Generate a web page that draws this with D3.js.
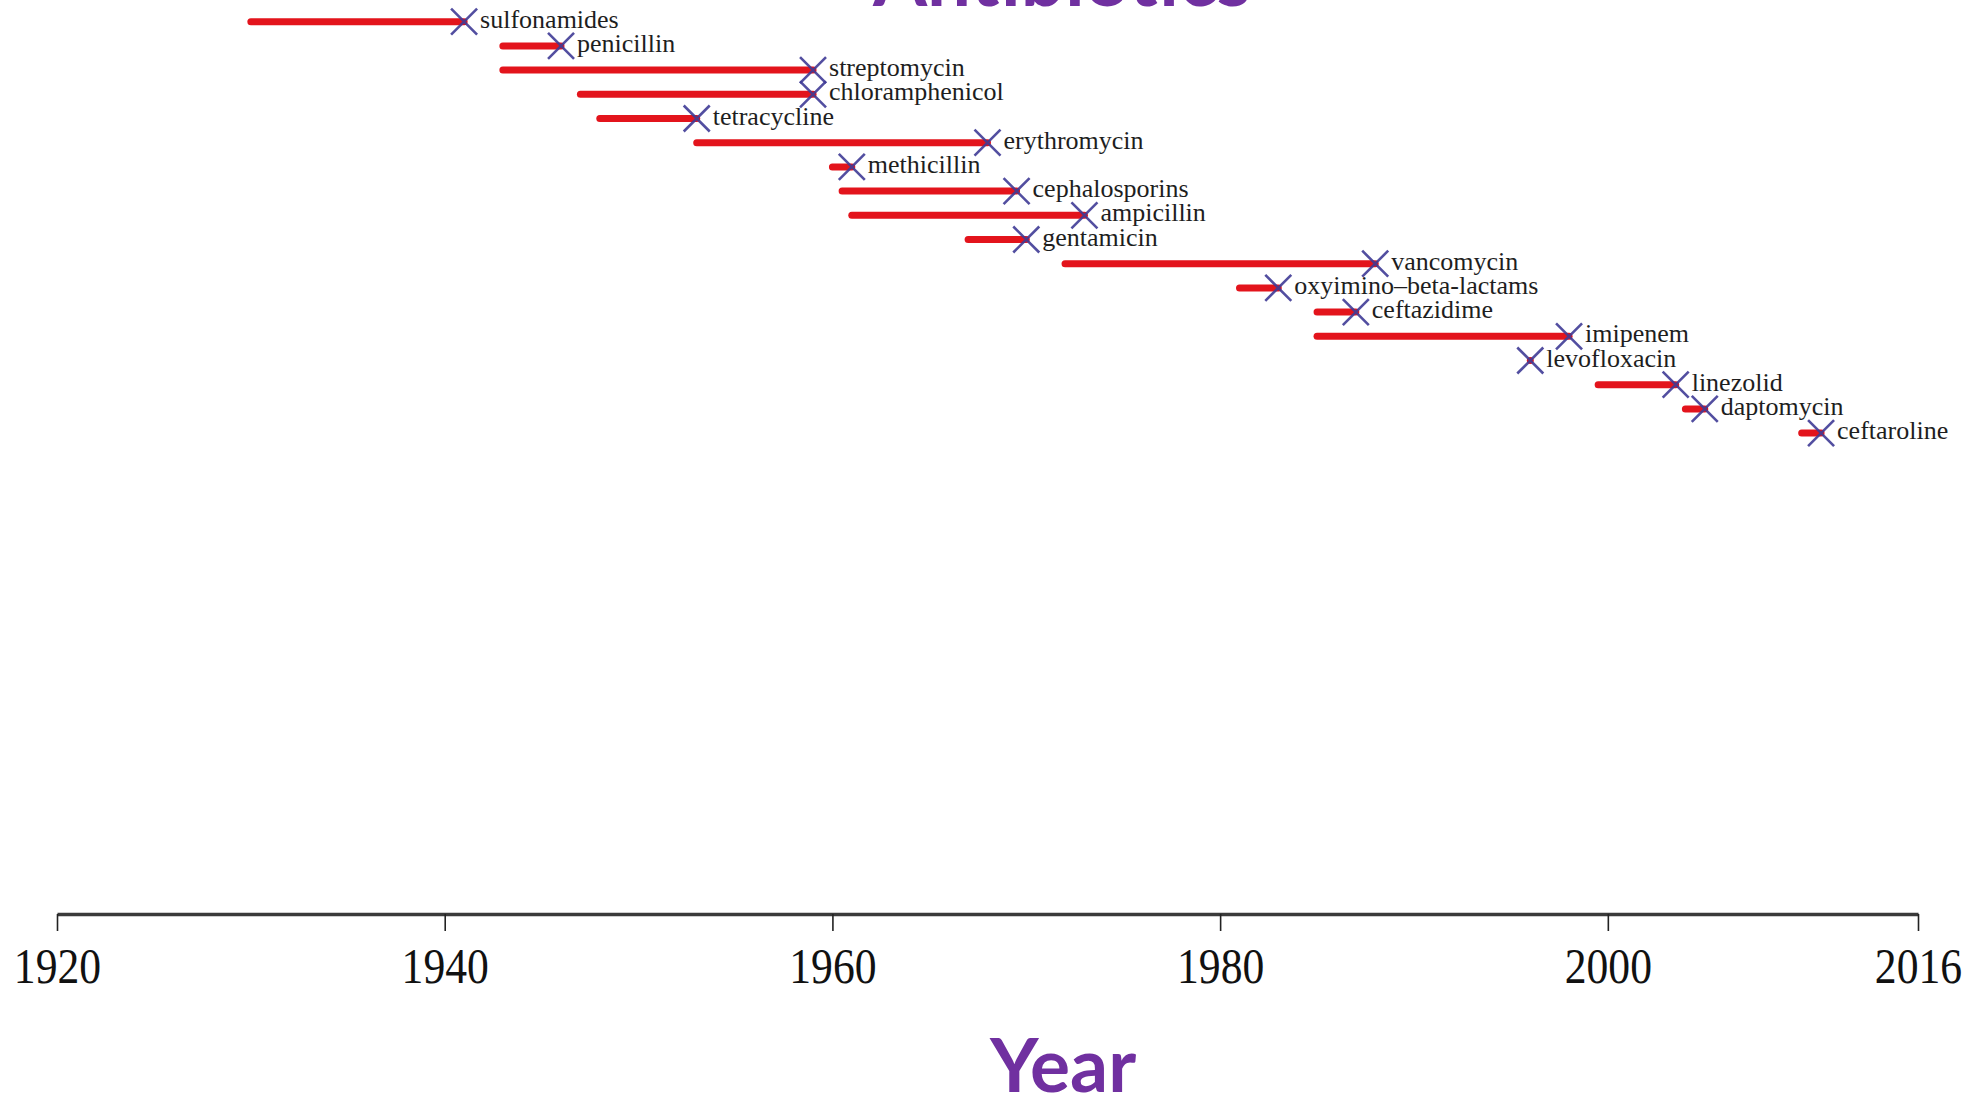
<!DOCTYPE html>
<html>
<head>
<meta charset="utf-8">
<script src="https://cdn.jsdelivr.net/npm/d3@7"></script>
<style>
  html, body { margin: 0; padding: 0; background: #ffffff; }
  svg { display: block; }
</style>
</head>
<body>
<svg id="chart" width="1977" height="1097"></svg>
<script>
// ---- data ----
const drugs = ["sulfonamides", "penicillin", "streptomycin", "chloramphenicol", "tetracycline",
  "erythromycin", "methicillin", "cephalosporins", "ampicillin", "gentamicin", "vancomycin",
  "oxyimino\u2013beta-lactams", "ceftazidime", "imipenem", "levofloxacin", "linezolid",
  "daptomycin", "ceftaroline"];
const introduced = [1930, 1943, 1943, 1947, 1948, 1953, 1960, 1960.5, 1961, 1967, 1972,
  1981, 1985, 1985, 1996, 1999.5, 2004, 2010];
const resistance = [1941, 1946, 1959, 1959, 1953, 1968, 1961, 1969.5, 1973, 1970, 1988,
  1983, 1987, 1998, 1996, 2003.5, 2005, 2011];
const tickYears = [1920, 1940, 1960, 1980, 2000, 2016];
const titleText = "Antibiotics";
const xTitle = "Year";

const rows = drugs.map((d, i) => ({ name: d, start: introduced[i], end: resistance[i] }));

const svg = d3.select("#chart");
const x = d3.scaleLinear().domain([1920, 2016]).range([57, 1918]);
const y = d3.scalePoint().domain(drugs).range([21.7, 433.1]);

// title (cut off at top as in reference)
svg.append("text")
  .attr("x", 1062).attr("y", 6)
  .attr("text-anchor", "middle")
  .style("font-family", "Lato, 'Open Sans', sans-serif")
  .style("font-weight", "700")
  .style("font-size", "78px")
  .style("fill", "#7030a0")
  .text(titleText);

// bars
svg.append("g").selectAll("line").data(rows).join("line")
  .attr("x1", d => x(d.start)).attr("x2", d => x(d.end))
  .attr("y1", d => y(d.name)).attr("y2", d => y(d.name))
  .attr("stroke", "#e3141c")
  .attr("stroke-width", 7)
  .attr("stroke-linecap", "round");

// X markers
const h = 13;
svg.append("g").selectAll("path").data(rows).join("path")
  .attr("d", d => {
    const cx = x(d.end), cy = y(d.name);
    return `M${cx - h},${cy - h}L${cx + h},${cy + h}M${cx - h},${cy + h}L${cx + h},${cy - h}`;
  })
  .attr("stroke", "#3f3b96")
  .attr("stroke-opacity", 0.9)
  .attr("stroke-width", 2.6)
  .attr("fill", "none");

// labels
svg.append("g").selectAll("text").data(rows).join("text")
  .attr("x", d => x(d.end) + 16)
  .attr("y", d => y(d.name) + 6)
  .style("font-family", "'Liberation Serif', 'Times New Roman', serif")
  .style("font-size", "26px")
  .style("fill", "#1e1e1e")
  .text(d => d.name);

// axis
const axis = d3.axisBottom(x)
  .tickValues(tickYears)
  .tickFormat(d3.format("d"))
  .tickSize(17)
  .tickSizeOuter(0)
  .tickPadding(21);

const gx = svg.append("g").attr("transform", "translate(0,914)").call(axis);
gx.select(".domain").attr("stroke", "#3a3a3a").attr("stroke-width", 3.5);
gx.selectAll(".tick line").attr("stroke", "#222").attr("stroke-width", 1.6);
gx.selectAll(".tick text")
  .attr("y", 0).attr("dy", 0)
  .attr("transform", "translate(0,69) scale(0.97,1.13)")
  .style("font-family", "'Liberation Serif', 'Times New Roman', serif")
  .style("font-size", "45px")
  .style("fill", "#111");

// x-axis title
svg.append("text")
  .attr("x", 1063).attr("y", 1092)
  .attr("text-anchor", "middle")
  .style("font-family", "Lato, 'Open Sans', sans-serif")
  .style("font-weight", "700")
  .style("font-size", "75px")
  .style("fill", "#7030a0")
  .text(xTitle);
</script>
</body>
</html>
